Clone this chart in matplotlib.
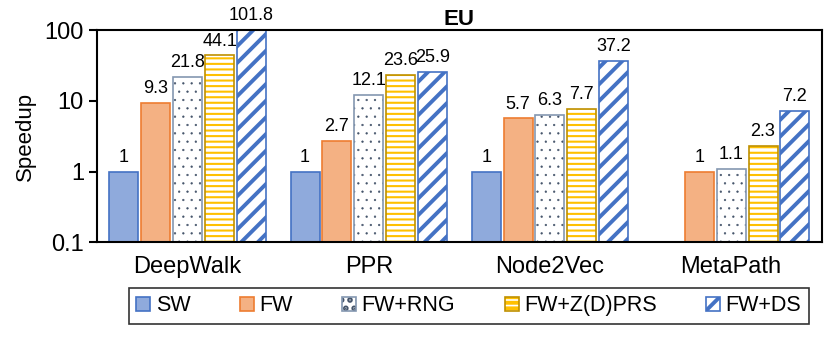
import matplotlib.pyplot as plt
import numpy as np

plt.rcParams['font.family'] = ['Liberation Sans', 'DejaVu Sans']

apps = ['DeepWalk', 'PPR', 'Node2Vec', 'MetaPath']
methods = ['SW', 'FW', 'FW+RNG', 'FW+Z(D)PRS', 'FW+DS']
sw = [1, 1, 1, np.nan]
fw = [9.3, 2.7, 5.7, 1]
rng = [21.8, 12.1, 6.3, 1.1]
zprs = [44.1, 23.6, 7.7, 2.3]
ds = [101.8, 25.9, 37.2, 7.2]
series = [sw, fw, rng, zprs, ds]

faces = ['#8FAADC', '#F4B183', 'white', 'white', 'white']
edges = ['#4472C4', '#ED7D31', '#8497B0', '#BF9000', '#4472C4']
hatches = [None, None, '..', '---', '//']
hatch_cols = [None, None, '#44546A', '#FFC000', '#4472C4']
hatch_lw = [1, 1, 0.4, 1.5, 2.8]

fig, ax = plt.subplots(figsize=(8.3, 3.47), dpi=100)
fig.subplots_adjust(left=0.117, right=0.99, top=0.913, bottom=0.302)

x = np.arange(len(apps))
w = 0.16
step = 0.176
for i, vals in enumerate(series):
    plt.rcParams['hatch.linewidth'] = hatch_lw[i]
    if hatch_cols[i]:
        plt.rcParams['hatch.color'] = hatch_cols[i]
    pos = x + (i - 2) * step
    bars = ax.bar(pos, vals, w, color=faces[i], edgecolor=edges[i], linewidth=1.2,
                  hatch=hatches[i], label=methods[i])
    if hatches[i]:
        for b in bars:
            b._hatch_color = plt.matplotlib.colors.to_rgba(hatch_cols[i])
    for p, v in zip(pos, vals):
        if not np.isnan(v):
            ax.text(p, v * 1.2, f'{v:g}', ha='center', va='bottom', fontsize=13)

ax.set_yscale('log')
ax.set_ylim(0.1, 100)
ax.set_xlim(-0.5, 3.5)
ax.set_yticks([0.1, 1, 10, 100])
ax.set_yticklabels(['0.1', '1', '10', '100'], fontsize=17)
ax.minorticks_off()
ax.set_xticks(x)
ax.set_xticklabels(apps, fontsize=17)
ax.tick_params(axis='x', length=0, pad=10)
ax.tick_params(axis='y', length=6, width=1.5, direction='out')
for s in ax.spines.values():
    s.set_linewidth(1.5)
ax.set_ylabel('Speedup', fontsize=16, labelpad=6)
ax.set_title('EU', fontsize=16, fontweight='bold', pad=1)

leg = ax.legend(loc='upper center', bbox_to_anchor=(0.513, -0.215), ncol=5, fontsize=15.5,
                frameon=True, fancybox=False, edgecolor='black', handlelength=0.65,
                handleheight=0.65, handletextpad=0.25, columnspacing=2.3,
                borderpad=0.35, borderaxespad=0)
leg.get_frame().set_linewidth(1.2)

fig.savefig('out.png', dpi=100)
